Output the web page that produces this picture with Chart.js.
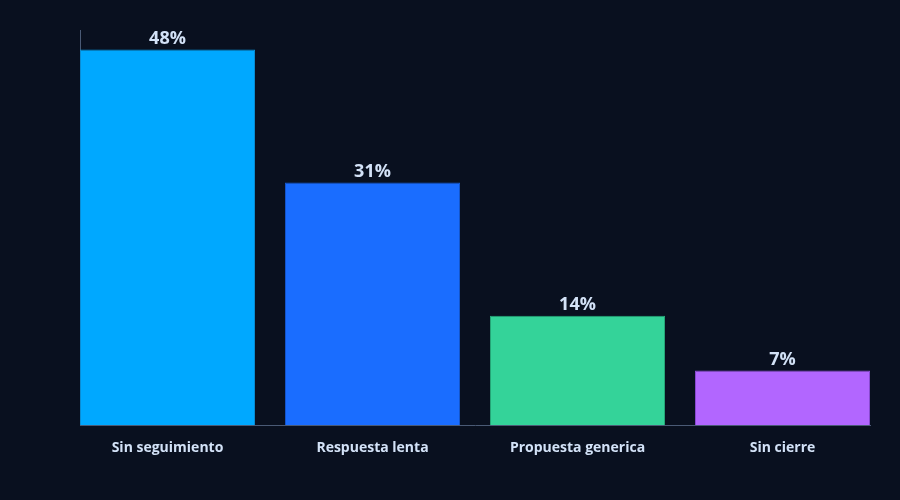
<!DOCTYPE html>
<html>
<head>
<meta charset="utf-8">
<script src="https://cdn.jsdelivr.net/npm/chart.js@4.4.1/dist/chart.umd.min.js"></script>
<style>
    html, body { margin: 0; padding: 0; background: #09101f; }
    #wrap { width: 900px; height: 500px; }
</style>
</head>
<body>
<div id="wrap"><canvas id="myChart"></canvas></div>
<script>
// values
var categories = ['Sin seguimiento', 'Respuesta lenta', 'Propuesta generica', 'Sin cierre'];
var shares = [48, 31, 14, 7];
var barColors = ['#00a8ff', '#1a6dff', '#34d399', '#b266ff'];
var edgeColors = ['#0a8fd6', '#1558d0', '#27a97a', '#8c4bd6'];

// writes "48%" over every bar
var valueLabels = {
    id: 'valueLabels',
    afterDatasetsDraw: function (chart) {
        var ctx = chart.ctx;
        var meta = chart.getDatasetMeta(0);
        ctx.save();
        ctx.font = 'bold 18px "Open Sans", sans-serif';
        ctx.fillStyle = '#d3e2f7';
        ctx.textAlign = 'center';
        ctx.textBaseline = 'bottom';
        meta.data.forEach(function (bar, i) {
            ctx.fillText(shares[i] + '%', bar.x, bar.y - 2);
        });
        ctx.restore();
    }
};

var ctx = document.getElementById('myChart').getContext('2d');
new Chart(ctx, {
    type: 'bar',
    data: {
        datasets: [{
            data: shares.map(function (v, i) { return { x: i, y: v }; }),
            backgroundColor: barColors,
            borderColor: edgeColors,
            borderWidth: 1,
            categoryPercentage: 1,
            barPercentage: 0.854
        }]
    },
    options: {
        responsive: true,
        maintainAspectRatio: false,
        animation: false,
        layout: { padding: { left: 72, right: 30, top: 30, bottom: 38 } },
        plugins: {
            legend: { display: false },
            tooltip: { enabled: false }
        },
        scales: {
            x: {
                type: 'linear',
                offset: false,
                bounds: 'data',
                min: -0.4268,
                max: 3.4268,
                afterBuildTicks: function (axis) {
                    axis.ticks = categories.map(function (c, i) { return { value: i }; });
                },
                grid: { display: false },
                border: { display: true, color: '#4a5a75', width: 1 },
                ticks: {
                    color: '#d3e2f7',
                    padding: 6,
                    font: { family: '"Open Sans", sans-serif', size: 14, weight: 'bold' },
                    callback: function (value) { return categories[value]; }
                }
            },
            y: {
                min: 0,
                max: 50.5,
                grid: { display: false },
                border: { display: true, color: '#4a5a75', width: 1 },
                ticks: { display: false }
            }
        }
    },
    plugins: [valueLabels]
});
</script>
</body>
</html>
